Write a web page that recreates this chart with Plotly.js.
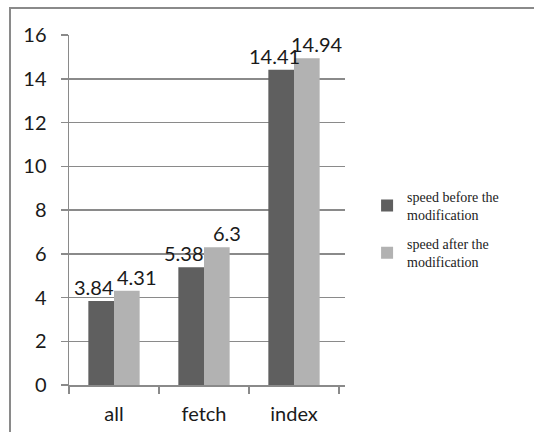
<!DOCTYPE html>
<html><head><meta charset="utf-8">
<script src="https://cdn.plot.ly/plotly-3.0.1.min.js"></script>
<style>
html,body{margin:0;padding:0;background:#fff;overflow:hidden;}
#frame{position:absolute;left:9px;top:7px;width:540px;height:440px;border:2px solid #8a8a8a;box-sizing:border-box;}
#chart{position:absolute;left:0;top:0;width:534px;height:432px;}
</style></head>
<body>
<div id="frame"></div>
<div id="chart"></div>
<script>
const categories = ["all", "fetch", "index"];
const before = [3.84, 5.38, 14.41];
const after = [4.31, 6.3, 14.94];
const beforeLabels = ["3.84", "5.38", "14.41"];
const afterLabels = ["4.31", "6.3", "14.94"];
const seriesNames = ["speed before the<br>modification", "speed after the<br>modification"];
const yTicks = [0, 2, 4, 6, 8, 10, 12, 14, 16];

const sans = "Lato, sans-serif";
const labelFont = {family: sans, size: 20, color: "#1a1a1a"};
const traces = [
  {type: "bar", x: categories, y: before, name: seriesNames[0],
   legendgroup: "a", marker: {color: "#5f5f5f"}},
  {type: "bar", x: categories, y: after, name: seriesNames[1],
   legendgroup: "b", marker: {color: "#b2b2b2"}}
];
const annotations = [];
categories.forEach((c, i) => {
  annotations.push({x: c, y: before[i], text: beforeLabels[i], showarrow: false,
    xanchor: "center", yanchor: "bottom", xshift: -20, yshift: 0, font: labelFont});
  annotations.push({x: c, y: after[i], text: afterLabels[i], showarrow: false,
    xanchor: "center", yanchor: "bottom", xshift: 23, yshift: 0, font: labelFont});
});
const layout = {
  width: 534, height: 432,
  margin: {l: 69, r: 189, t: 35, b: 47},
  paper_bgcolor: "rgba(0,0,0,0)", plot_bgcolor: "rgba(0,0,0,0)",
  barmode: "group", bargap: 0.43, bargroupgap: 0,
  showlegend: true,
  annotations: annotations,
  legend: {x: 1.08, y: 0.445, xanchor: "left", yanchor: "middle",
    font: {family: "Liberation Serif, serif", size: 14, color: "#222"},
    tracegroupgap: 8, itemwidth: 30, bgcolor: "rgba(0,0,0,0)"},
  xaxis: {type: "category", showline: true, linecolor: "#8a8a8a", linewidth: 1.5,
    ticks: "outside", tickson: "boundaries", ticklen: 7, tickcolor: "#8a8a8a", tickwidth: 1.5,
    tickfont: {family: sans, size: 20, color: "#1a1a1a"}, showgrid: false,
    ticklabelstandoff: 10, automargin: false},
  yaxis: {range: [0, 16], tickvals: yTicks, showline: true, linecolor: "#8a8a8a", linewidth: 1.5,
    ticks: "outside", ticklen: 7, tickcolor: "#8a8a8a", tickwidth: 1.5,
    gridcolor: "#8a8a8a", gridwidth: 1.5, zeroline: false,
    tickfont: {family: sans, size: 20, color: "#1a1a1a"},
    ticklabelstandoff: 10, automargin: false}
};
Plotly.newPlot("chart", traces, layout, {displayModeBar: false, staticPlot: true});
</script>
</body></html>
